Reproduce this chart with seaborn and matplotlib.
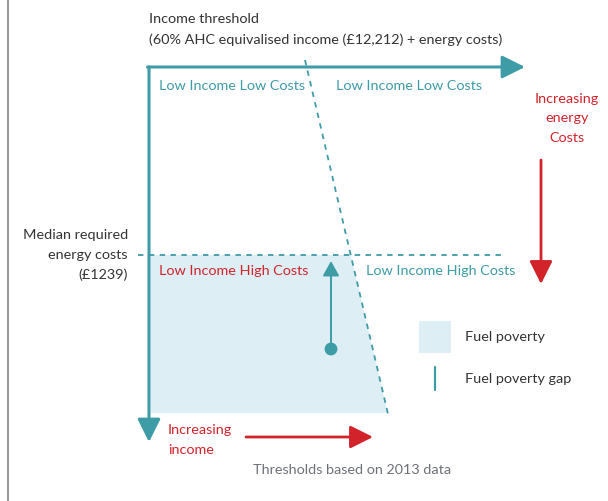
import numpy as np
import pandas as pd
import seaborn as sns
import matplotlib.pyplot as plt
from matplotlib.patches import Polygon, FancyArrowPatch

# diagram geometry (pixel space of the original graphic)
threshold_x = [305, 388]        # income threshold line, top -> bottom
threshold_y = [60, 414]
median_x = [138, 505]           # median required energy costs line
median_y = [255, 255]
axis_origin = (149, 67)
axis_x_end = 525
axis_y_end = 442
poverty_bottom = 413
gap_x = [331, 331]
gap_y = [349, 261]

teal = "#3d9ca6"
red = "#d2232a"
dark = "#333333"
grey = "#6d7178"
fill = "#ddeef5"

sns.set_theme(style="white")
plt.rcParams['font.family'] = ['Lato', 'DejaVu Sans']

fig = plt.figure(figsize=(6.08, 5.01), dpi=100)
ax = fig.add_axes([0, 0, 1, 1])


def reset_axes():
    ax.set_xlim(0, 608)
    ax.set_ylim(501, 0)
    ax.axis("off")


reset_axes()

# left grey rule
ax.plot([8, 8], [0, 501], color="#9a9a9a", lw=1.5)

# fuel poverty area: bounded by median line, threshold line and axes
slope = (threshold_x[1] - threshold_x[0]) / (threshold_y[1] - threshold_y[0])
x_at_median = threshold_x[0] + (median_y[0] - threshold_y[0]) * slope
x_at_bottom = threshold_x[0] + (poverty_bottom - threshold_y[0]) * slope
ax.add_patch(Polygon([(axis_origin[0] + 2, median_y[0]), (x_at_median, median_y[0]),
                      (x_at_bottom, poverty_bottom), (axis_origin[0] + 2, poverty_bottom)],
                     closed=True, facecolor=fill, edgecolor="none", zorder=1))

# dashed threshold lines
lines = pd.DataFrame({"x": threshold_x + median_x, "y": threshold_y + median_y,
                      "line": ["income"] * 2 + ["median"] * 2})
for name, grp in lines.groupby("line"):
    sns.lineplot(data=grp, x="x", y="y", ax=ax, color=teal, lw=1.3,
                 linestyle=(0, (3, 3)), sort=False, zorder=2)
reset_axes()

# main axes arrows
ax.add_patch(FancyArrowPatch((axis_origin[0] - 1.5, axis_origin[1]), (axis_x_end, axis_origin[1]),
                             arrowstyle="-|>,head_length=14,head_width=7", color=teal,
                             lw=2.2, mutation_scale=1, shrinkA=0, shrinkB=0, zorder=3))
ax.add_patch(FancyArrowPatch(axis_origin, (axis_origin[0], axis_y_end),
                             arrowstyle="-|>,head_length=14,head_width=7", color=teal,
                             lw=2.2, mutation_scale=1, shrinkA=0, shrinkB=0, zorder=3))

# fuel poverty gap arrow
ax.add_patch(FancyArrowPatch((gap_x[0], gap_y[0]), (gap_x[1], gap_y[1]),
                             arrowstyle="-|>,head_length=9,head_width=5", color=teal,
                             lw=1.4, mutation_scale=1, shrinkA=0, shrinkB=0, zorder=4))
sns.scatterplot(x=[gap_x[0]], y=[gap_y[0]], ax=ax, color=teal, s=85, edgecolor="none", zorder=5)
reset_axes()

# red direction arrows
ax.add_patch(FancyArrowPatch((541, 160), (541, 284),
                             arrowstyle="-|>,head_length=14,head_width=7", color=red,
                             lw=2, mutation_scale=1, shrinkA=0, shrinkB=0))
ax.add_patch(FancyArrowPatch((246, 437), (373, 437),
                             arrowstyle="-|>,head_length=14,head_width=7", color=red,
                             lw=2, mutation_scale=1, shrinkA=0, shrinkB=0))

fs = 10.4
ls = 1.75
ax.text(149, 19, "Income threshold", color=dark, fontsize=fs, va="center")
ax.text(149, 40, "(60% AHC equivalised income (£12,212) + energy costs)", color=dark, fontsize=fs, va="center")
ax.text(159, 86, "Low Income Low Costs", color=teal, fontsize=fs, va="center")
ax.text(336, 86, "Low Income Low Costs", color=teal, fontsize=fs, va="center")
ax.text(159, 271, "Low Income High Costs", color=red, fontsize=fs, va="center")
ax.text(366, 271, "Low Income High Costs", color=teal, fontsize=fs, va="center")
ax.text(567, 118, "Increasing\nenergy\nCosts", color=red, fontsize=fs, va="center", ha="center",
        linespacing=ls)
ax.text(128, 255, "Median required\nenergy costs\n(£1239)", color=dark, fontsize=fs, va="center",
        ha="right", multialignment="right", linespacing=ls)
ax.text(168, 440, "Increasing\nincome", color=red, fontsize=fs, va="center", linespacing=ls)
ax.text(352, 470, "Thresholds based on 2013 data", color=grey, fontsize=fs, va="center", ha="center")

# legend
ax.add_patch(plt.Rectangle((419, 321), 32, 32, facecolor=fill, edgecolor="none"))
ax.plot([435, 435], [367, 390], color=teal, lw=1.6)
ax.text(465, 337, "Fuel poverty", color=dark, fontsize=fs, va="center")
ax.text(465, 379, "Fuel poverty gap", color=dark, fontsize=fs, va="center")

fig.savefig("out.png", dpi=100)
